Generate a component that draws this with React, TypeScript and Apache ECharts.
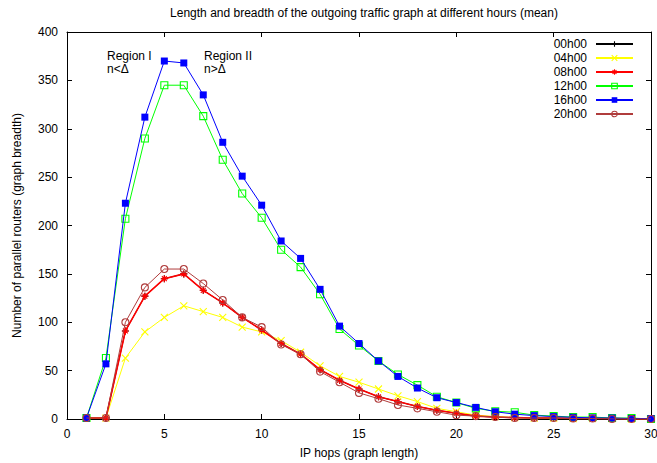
import React, { useEffect, useRef } from "react";
import * as echarts from "echarts";

const hops = [1, 2, 3, 4, 5, 6, 7, 8, 9, 10, 11, 12, 13, 14, 15, 16, 17, 18, 19, 20, 21, 22, 23, 24, 25, 26, 27, 28, 29, 30];

const h08 = [1, 1, 91, 127, 145, 150, 133, 120, 105, 92, 78, 67, 51, 40, 31, 23, 18, 13, 9, 6, 3, 2, 1.5, 1, 1, 0.5, 0.5, 0.5, 0, 0];
const h00 = [1, 1, 91, 127, 145, 150, 133, 120, 105, 92, 78, 67, 51, 40, 31, 23, 18, 13, 9, 6, 3, 2, 1.5, 1, 1, 0.5, 0.5, 0.5, 0, 0];
const h04 = [1, 1, 63, 90, 105, 117, 111, 105, 95, 90, 81, 69, 55, 44, 38, 31, 24, 18, 11, 7.5, 4, 2.5, 1.5, 1, 1, 0.5, 0.5, 0.5, 0, 0];
const h12 = [1, 63, 207, 290, 345, 345, 313, 268, 233, 208, 175, 157, 129, 93, 76, 60, 46, 35, 23, 17, 11, 8, 7, 4, 3, 2, 2, 1, 1, 0];
const h16 = [1, 57, 223, 312, 370, 368, 335, 286, 251, 221, 184, 166, 134, 96, 78, 60, 44, 32, 22, 17, 12, 7.5, 5, 3.5, 2.5, 1.7, 1.2, 1, 0.5, 0.5];
const h20 = [1, 1, 100, 136, 155, 155, 140, 123, 105, 95, 77, 67, 49, 38, 27, 21, 14.5, 11, 7.5, 4, 3, 2, 1, 1, 1, 0.5, 0.5, 0, 0, 0];

const seriesNames = ["00h00", "04h00", "08h00", "12h00", "16h00", "20h00"];
const seriesValues = [h00, h04, h08, h12, h16, h20];
const seriesColors = ["#000000", "#ffff00", "#ff0000", "#00ff00", "#0000ff", "#b03c3c"];
const seriesSymbols = [
  "path://M5,0L5,10M0,5L10,5",
  "path://M0,0L10,10M10,0L0,10",
  "path://M5,0L5,10M0,5L10,5M1.5,1.5L8.5,8.5M8.5,1.5L1.5,8.5",
  "path://M0,0L10,0L10,10L0,10Z",
  "rect",
  "path://M0,5A5,5,0,1,1,10,5A5,5,0,1,1,0,5Z",
];
const seriesFilled = [false, false, false, false, true, false];
const seriesSizes = [7, 7, 7, 7, 7, 7];
const lineWidths = [1, 1, 1.6, 1, 1, 1];

const FONT = "Liberation Sans, Arial, Helvetica, sans-serif";

function itemStyleFor(i: number) {
  return seriesFilled[i]
    ? { color: seriesColors[i], borderColor: seriesColors[i], borderWidth: 0 }
    : { color: "rgba(0,0,0,0)", borderColor: seriesColors[i], borderWidth: 1.1 };
}

export default function App() {
  const ref = useRef<HTMLDivElement>(null);
  useEffect(() => {
    if (!ref.current) return;
    const chart = echarts.init(ref.current, null, { renderer: "svg" });
    const series = seriesNames.map((name, i) => ({
      name,
      type: "line",
      xAxisIndex: 0,
      yAxisIndex: 0,
      data: hops.map((h, k) => [h, seriesValues[i][k]]),
      symbol: seriesSymbols[i],
      symbolSize: seriesSizes[i],
      showAllSymbol: true,
      lineStyle: { color: seriesColors[i], width: lineWidths[i] },
      itemStyle: itemStyleFor(i),
      emphasis: { disabled: true },
      z: 2 + i,
    }));
    const axisCommonX = {
      type: "value",
      min: 0,
      max: 30,
      interval: 5,
      axisLine: { show: true, onZero: false, lineStyle: { color: "#000", width: 1 } },
      axisTick: { show: true, inside: true, length: 5, lineStyle: { color: "#000" } },
      splitLine: { show: false },
    };
    const axisCommonY = {
      type: "value",
      min: 0,
      max: 400,
      interval: 50,
      axisLine: { show: true, onZero: false, lineStyle: { color: "#000", width: 1 } },
      axisTick: { show: true, inside: true, length: 5, lineStyle: { color: "#000" } },
      splitLine: { show: false },
    };
    chart.setOption({
      animation: false,
      backgroundColor: "#ffffff",
      textStyle: { fontFamily: FONT },
      title: {
        text: "Length and breadth of the outgoing traffic graph at different hours (mean)",
        left: 359,
        textAlign: "center",
        top: 2,
        textStyle: { fontSize: 12, fontWeight: "normal", color: "#000", fontFamily: FONT },
      },
      grid: { left: 67, right: 6, top: 32, bottom: 44, show: false, containLabel: false, outerBoundsMode: "none" },
      legend: {
        orient: "vertical",
        right: 18,
        top: 33,
        align: "right",
        itemWidth: 37,
        itemHeight: 7,
        itemGap: 2,
        textStyle: { fontSize: 12, color: "#000", fontFamily: FONT, padding: [0, 4, 0, 0] },
        data: seriesNames.map((name, i) => ({ name, itemStyle: itemStyleFor(i) })),
      },
      xAxis: [
        {
          ...axisCommonX,
          position: "bottom",
          axisLabel: { color: "#000", fontSize: 12, margin: 9, fontFamily: FONT },
          name: "IP hops (graph length)",
          nameLocation: "middle",
          nameGap: 28,
          nameTextStyle: { color: "#000", fontSize: 12, fontFamily: FONT },
        },
        {
          ...axisCommonX,
          position: "top",
          axisLabel: { show: false },
        },
      ],
      yAxis: [
        {
          ...axisCommonY,
          position: "left",
          axisLabel: { color: "#000", fontSize: 12, margin: 9, fontFamily: FONT },
          name: "Number of parallel routers (graph breadth)",
          nameLocation: "middle",
          nameGap: 44,
          nameTextStyle: { color: "#000", fontSize: 12, fontFamily: FONT },
        },
        {
          ...axisCommonY,
          position: "right",
          axisLabel: { show: false },
        },
      ],
      graphic: [
        { type: "text", left: 107, top: 49, style: { text: "Region I\nn<Δ", fontSize: 12, lineHeight: 13, fill: "#000", fontFamily: FONT } },
        { type: "text", left: 204, top: 49, style: { text: "Region II\nn>Δ", fontSize: 12, lineHeight: 13, fill: "#000", fontFamily: FONT } },
      ],
      series,
    });
    return () => chart.dispose();
  }, []);
  return <div ref={ref} style={{ width: 657, height: 463, position: "absolute", left: 0, top: 0 }} />;
}
